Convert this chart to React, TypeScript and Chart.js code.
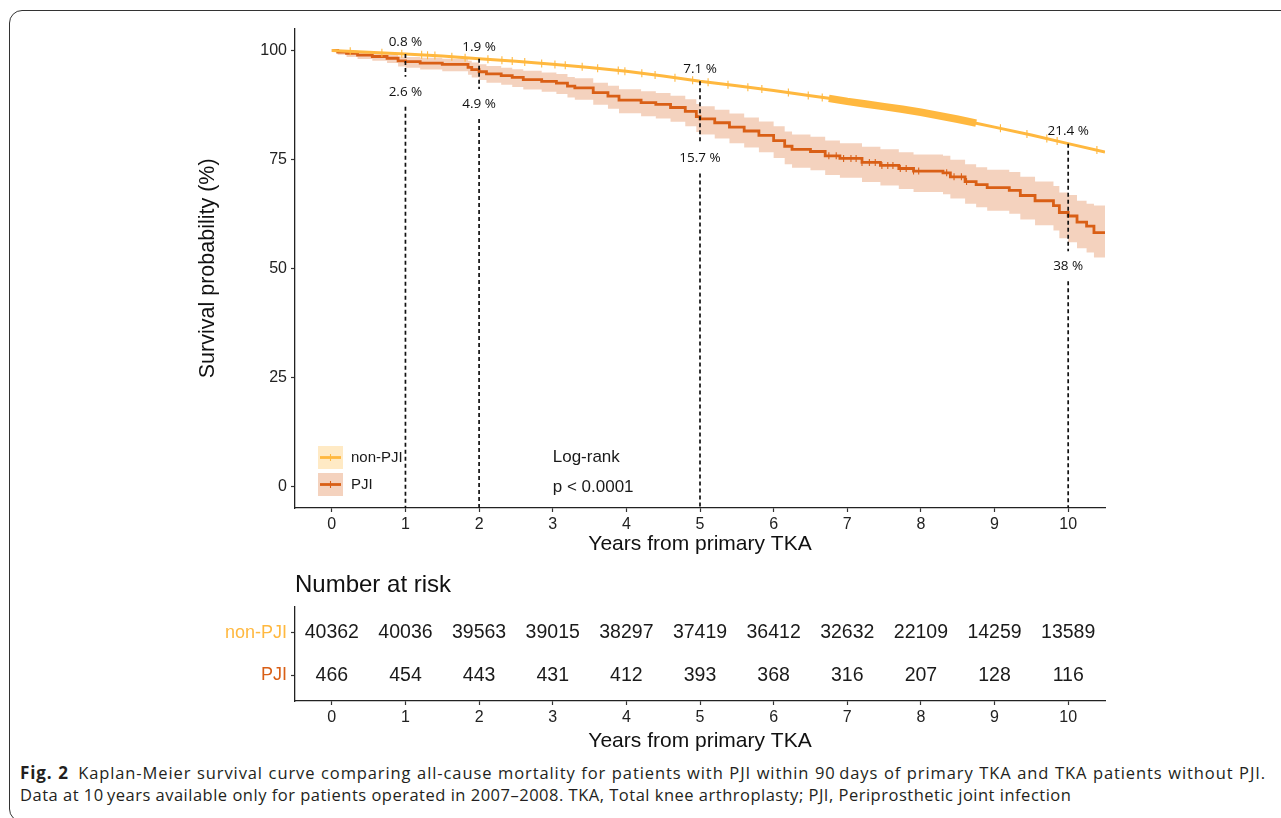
import React, { useEffect, useRef } from 'react';
import { Chart, registerables } from 'chart.js';

Chart.register(...registerables);

// ---------- data ----------
const xTickValues = [0, 1, 2, 3, 4, 5, 6, 7, 8, 9, 10];
const yTickValues = [0, 25, 50, 75, 100];

const nonPjiTimes = [0, 0.5, 1, 1.5, 2, 2.5, 3, 3.5, 4, 4.5, 5, 5.5, 6, 6.5, 6.75, 7, 7.25, 7.5, 7.75, 8, 8.25, 8.5, 8.75, 9, 9.5, 10, 10.5];
const nonPjiSurvival = [100, 99.6, 99.2, 98.7, 98.1, 97.5, 96.8, 96.1, 95.2, 94.1, 92.9, 91.9, 90.8, 89.6, 89.0, 88.3, 87.7, 87.1, 86.5, 85.8, 85.0, 84.2, 83.3, 82.4, 80.6, 78.6, 76.7];
const nonPjiDenseCensorRange = [6.75, 8.75];
const nonPjiCensor = [0.25, 0.68, 0.95, 1.22, 1.3, 1.4, 1.63, 1.81, 2.12, 2.31, 2.45, 2.62, 2.85, 3.03, 3.17, 3.4, 3.61, 3.89, 3.98, 4.21, 4.39, 4.66, 4.9, 5.11, 5.38, 5.65, 5.84, 6.2, 6.47, 6.66, 9.08, 9.44, 9.71, 9.85, 10.39];

const pjiTimes = [0, 0.08, 0.2, 0.35, 0.55, 0.75, 0.9, 1.0, 1.2, 1.5, 1.85, 1.9, 2.0, 2.1, 2.3, 2.45, 2.6, 2.85, 3.05, 3.2, 3.3, 3.55, 3.75, 3.9, 4.2, 4.4, 4.6, 4.8, 4.95, 5.0, 5.2, 5.4, 5.6, 5.8, 6.0, 6.15, 6.25, 6.5, 6.7, 6.9, 7.2, 7.45, 7.7, 7.9, 8.3, 8.4, 8.6, 8.75, 8.9, 9.2, 9.35, 9.55, 9.8, 9.88, 10.0, 10.12, 10.25, 10.35, 10.5];
const pjiSurvival = [100, 99.6, 99.3, 98.9, 98.6, 98.2, 97.6, 97.4, 97.1, 96.8, 96.1, 95.6, 95.1, 94.6, 94.2, 93.8, 93.3, 92.9, 92.5, 91.8, 91.4, 90.3, 89.5, 88.6, 88.0, 87.6, 86.9, 86.0, 84.8, 84.3, 83.4, 82.4, 81.5, 80.5, 79.3, 78.0, 77.3, 76.8, 75.8, 75.2, 74.3, 73.6, 72.9, 72.3, 71.9, 71.0, 69.9, 69.2, 68.5, 67.9, 66.7, 65.5, 64.4, 62.8, 62.0, 60.6, 59.7, 58.2, 58.0];
const pjiUpper = [100, 100, 99.9, 99.6, 99.4, 99.1, 98.6, 98.5, 98.3, 98.1, 97.6, 97.2, 96.8, 96.4, 96.0, 95.7, 95.3, 94.9, 94.6, 93.9, 93.6, 92.6, 91.9, 91.1, 90.6, 90.2, 89.6, 88.8, 87.7, 87.2, 86.4, 85.5, 84.6, 83.7, 82.6, 81.4, 80.7, 80.2, 79.3, 78.7, 77.9, 77.3, 76.6, 76.1, 75.8, 74.9, 73.9, 73.2, 72.6, 72.1, 71.0, 69.9, 68.9, 67.4, 66.8, 65.5, 64.8, 64.4, 64.3];
const pjiLower = [100, 99.0, 98.5, 98.0, 97.6, 97.1, 96.3, 96.0, 95.6, 95.2, 94.4, 93.8, 93.2, 92.6, 92.1, 91.6, 91.0, 90.5, 90.0, 89.2, 88.7, 87.5, 86.6, 85.6, 84.9, 84.4, 83.6, 82.6, 81.3, 80.7, 79.8, 78.7, 77.7, 76.6, 75.3, 73.9, 73.1, 72.5, 71.4, 70.8, 69.8, 69.0, 68.2, 67.5, 67.0, 66.0, 64.8, 64.0, 63.2, 62.5, 61.2, 59.9, 58.7, 56.9, 56.0, 54.6, 53.6, 52.5, 52.3];
const pjiCensor = [6.75, 6.85, 6.95, 7.05, 7.12, 7.2, 7.3, 7.38, 7.47, 7.55, 7.62, 7.72, 7.8, 7.9, 7.97, 8.35, 8.45, 8.55, 8.62];

const markYears = [1, 2, 5, 10];
const nonPjiMortalityLabels = ['0.8 %', '1.9 %', '7.1 %', '21.4 %'];
const pjiMortalityLabels = ['2.6 %', '4.9 %', '15.7 %', '38 %'];

const groupNames = ['non-PJI', 'PJI'];
const riskYears = [0, 1, 2, 3, 4, 5, 6, 7, 8, 9, 10];
const riskNonPji = [40362, 40036, 39563, 39015, 38297, 37419, 36412, 32632, 22109, 14259, 13589];
const riskPji = [466, 454, 443, 431, 412, 393, 368, 316, 207, 128, 116];

// ---------- styles ----------
const NONPJI = '#FFB83F';
const NONPJI_FILL = 'rgba(255,184,63,0.3)';
const PJI = '#D95F16';
const BAND = 'rgba(217,95,22,0.28)';
const FONT = '"Liberation Sans", Arial, Helvetica, sans-serif';
const TEXT = '#1a1a1a';

Chart.defaults.font.family = FONT;
Chart.defaults.color = TEXT;

const linearAt = (ts: number[], vs: number[], t: number) => {
  for (let i = 1; i < ts.length; i++) {
    if (t <= ts[i]) {
      const f = (t - ts[i - 1]) / (ts[i] - ts[i - 1]);
      return vs[i - 1] + f * (vs[i] - vs[i - 1]);
    }
  }
  return vs[vs.length - 1];
};
const stepAt = (ts: number[], vs: number[], t: number) => {
  let v = vs[0];
  for (let i = 0; i < ts.length; i++) if (ts[i] <= t + 1e-9) v = vs[i];
  return v;
};

const axisGrid = { display: true, drawOnChartArea: false, drawTicks: true, tickLength: 4, tickColor: '#333', tickWidth: 1.2 };
const axisBorder = { display: true, color: '#222', width: 1.3 };
const setTicks = (vals: number[]) => (scale: any) => { scale.ticks = vals.map((v) => ({ value: v })); };

const censorPlugin = {
  id: 'censor',
  afterDatasetsDraw(chart: any) {
    const { ctx, scales: { x, y }, chartArea } = chart;
    ctx.save();
    ctx.beginPath();
    ctx.rect(chartArea.left, chartArea.top, chartArea.width, chartArea.height);
    ctx.clip();
    ctx.lineWidth = 1.1;
    ctx.strokeStyle = NONPJI;
    nonPjiCensor.forEach((t) => {
      const px = x.getPixelForValue(t);
      const py = y.getPixelForValue(linearAt(nonPjiTimes, nonPjiSurvival, t));
      ctx.beginPath(); ctx.moveTo(px, py - 4); ctx.lineTo(px, py + 4); ctx.stroke();
    });
    ctx.strokeStyle = PJI;
    pjiCensor.forEach((t) => {
      const px = x.getPixelForValue(t);
      const py = y.getPixelForValue(stepAt(pjiTimes, pjiSurvival, t));
      ctx.beginPath(); ctx.moveTo(px, py - 3.5); ctx.lineTo(px, py + 3.5); ctx.stroke();
    });
    ctx.restore();
  },
};

const annotPlugin = {
  id: 'annot',
  afterDatasetsDraw(chart: any) {
    const { ctx, scales: { x, y }, chartArea } = chart;
    ctx.save();
    markYears.forEach((t, i) => {
      const px = x.getPixelForValue(t);
      const topY = y.getPixelForValue(linearAt(nonPjiTimes, nonPjiSurvival, t));
      const lowY = y.getPixelForValue(stepAt(pjiTimes, pjiLower, t)) + 24;
      ctx.strokeStyle = '#111';
      ctx.lineWidth = 1.7;
      ctx.setLineDash([4, 3]);
      ctx.beginPath();
      ctx.moveTo(px, topY); ctx.lineTo(px, lowY - 15);
      ctx.moveTo(px, lowY + 15); ctx.lineTo(px, chartArea.bottom);
      ctx.stroke();
      ctx.setLineDash([]);
      ctx.fillStyle = '#111';
      ctx.font = '13.5px "Open Sans", sans-serif';
      ctx.textAlign = 'center';
      ctx.textBaseline = 'middle';
      ctx.fillText(nonPjiMortalityLabels[i], px, topY - 12);
      ctx.fillText(pjiMortalityLabels[i], px, lowY);
    });
    // log-rank annotation
    ctx.font = '17px ' + FONT;
    ctx.textAlign = 'left';
    ctx.fillStyle = TEXT;
    ctx.fillText('Log-rank', x.getPixelForValue(3), y.getPixelForValue(6.6));
    ctx.fillText('p < 0.0001', x.getPixelForValue(3), y.getPixelForValue(-0.3));
    ctx.restore();
  },
};

const legendPlugin = {
  id: 'kmLegend',
  afterDraw(chart: any) {
    const { ctx, chartArea } = chart;
    const left = chartArea.left + 23;
    const w = 25, h = 23;
    const rows = [
      { label: groupNames[0], color: NONPJI, fill: NONPJI_FILL, top: chartArea.bottom - 62 },
      { label: groupNames[1], color: PJI, fill: BAND, top: chartArea.bottom - 35 },
    ];
    ctx.save();
    rows.forEach((r) => {
      ctx.fillStyle = r.fill;
      ctx.fillRect(left, r.top, w, h);
      const cy = r.top + h / 2;
      ctx.strokeStyle = r.color;
      ctx.lineWidth = 2.8;
      ctx.beginPath(); ctx.moveTo(left + 2, cy); ctx.lineTo(left + w - 2, cy); ctx.stroke();
      ctx.lineWidth = 1.1;
      ctx.beginPath(); ctx.moveTo(left + w / 2, cy - 3.5); ctx.lineTo(left + w / 2, cy + 3.5); ctx.stroke();
      ctx.fillStyle = TEXT;
      ctx.font = '15px ' + FONT;
      ctx.textAlign = 'left';
      ctx.textBaseline = 'middle';
      ctx.fillText(r.label, left + w + 8, cy);
    });
    ctx.restore();
  },
};

const riskTextPlugin = {
  id: 'riskText',
  afterDatasetsDraw(chart: any) {
    const { ctx, chartArea } = chart;
    ctx.save();
    ctx.font = '19.5px ' + FONT;
    ctx.fillStyle = TEXT;
    ctx.textAlign = 'center';
    ctx.textBaseline = 'middle';
    chart.data.datasets.forEach((ds: any, di: number) => {
      const meta = chart.getDatasetMeta(di);
      meta.data.forEach((pt: any, i: number) => {
        ctx.fillText(String(ds.counts[i]), pt.x, pt.y);
      });
    });
    ctx.font = '24px ' + FONT;
    ctx.textAlign = 'left';
    ctx.fillStyle = '#111';
    ctx.fillText('Number at risk', chartArea.left, chartArea.top - 22);
    ctx.restore();
  },
};

export default function App() {
  const mainRef = useRef<HTMLCanvasElement>(null);
  const riskRef = useRef<HTMLCanvasElement>(null);

  useEffect(() => {
    const nonPjiData = nonPjiTimes.map((t, i) => ({ x: t, y: nonPjiSurvival[i] }));
    const denseData = nonPjiData.filter((p) => p.x >= nonPjiDenseCensorRange[0] && p.x <= nonPjiDenseCensorRange[1]);
    const pjiData = pjiTimes.map((t, i) => ({ x: t, y: pjiSurvival[i] }));
    const upperData = pjiTimes.map((t, i) => ({ x: t, y: pjiUpper[i] }));
    const lowerData = pjiTimes.map((t, i) => ({ x: t, y: pjiLower[i] }));

    const main = new Chart(mainRef.current as HTMLCanvasElement, {
      type: 'line',
      data: {
        datasets: [
          { label: 'dense', data: denseData, borderColor: NONPJI, borderWidth: 7.5, pointRadius: 0, fill: false, tension: 0 },
          { label: groupNames[0], data: nonPjiData, borderColor: NONPJI, borderWidth: 3, pointRadius: 0, fill: false, tension: 0 },
          { label: groupNames[1], data: pjiData, borderColor: PJI, borderWidth: 2.8, pointRadius: 0, fill: false, stepped: true },
          { label: 'upper', data: upperData, borderColor: 'rgba(0,0,0,0)', borderWidth: 1, pointRadius: 0, fill: false, stepped: true },
          { label: 'lower', data: lowerData, borderColor: 'rgba(0,0,0,0)', borderWidth: 1, pointRadius: 0, fill: '-1', backgroundColor: BAND, stepped: true },
        ] as any,
      },
      options: {
        responsive: false,
        animation: false,
        events: [],
        layout: { padding: { left: 0, right: 25, top: 12, bottom: 0 } },
        plugins: { legend: { display: false }, tooltip: { enabled: false } },
        scales: {
          x: {
            type: 'linear', min: -0.5, max: 10.5,
            afterBuildTicks: setTicks(xTickValues),
            afterFit: (s: any) => { s.height = 62; },
            grid: axisGrid as any, border: axisBorder as any,
            ticks: { font: { size: 16 }, color: '#222', padding: 3, maxRotation: 0, autoSkip: false },
            title: { display: true, text: 'Years from primary TKA', font: { size: 21 }, color: '#111', padding: { top: 0, bottom: 13 } },
          },
          y: {
            type: 'linear', min: -5, max: 105,
            afterBuildTicks: setTicks(yTickValues),
            afterFit: (s: any) => { s.width = 145; },
            grid: axisGrid as any, border: axisBorder as any,
            ticks: { font: { size: 16 }, color: '#222', padding: 4 },
            title: { display: true, text: 'Survival probability (%)', font: { size: 21.5 }, color: '#111', padding: { top: 45, bottom: 0 } },
          },
        },
      } as any,
      plugins: [censorPlugin, annotPlugin, legendPlugin],
    });

    const risk = new Chart(riskRef.current as HTMLCanvasElement, {
      type: 'scatter',
      data: {
        datasets: [
          { label: groupNames[0], data: riskYears.map((t) => ({ x: t, y: 2 })), counts: riskNonPji, pointRadius: 0 },
          { label: groupNames[1], data: riskYears.map((t) => ({ x: t, y: 1 })), counts: riskPji, pointRadius: 0 },
        ] as any,
      },
      options: {
        responsive: false,
        animation: false,
        events: [],
        layout: { padding: { left: 0, right: 25, top: 42, bottom: 0 } },
        plugins: { legend: { display: false }, tooltip: { enabled: false } },
        scales: {
          x: {
            type: 'linear', min: -0.5, max: 10.5,
            afterBuildTicks: setTicks(riskYears),
            afterFit: (s: any) => { s.height = 59; },
            grid: axisGrid as any, border: axisBorder as any,
            ticks: { font: { size: 16 }, color: '#222', padding: 3, maxRotation: 0, autoSkip: false },
            title: { display: true, text: 'Years from primary TKA', font: { size: 21 }, color: '#111', padding: { top: 0, bottom: 6 } },
          },
          y: {
            type: 'linear', min: 0.4, max: 2.6,
            afterBuildTicks: setTicks([1, 2]),
            afterFit: (s: any) => { s.width = 145; },
            grid: axisGrid as any, border: axisBorder as any,
            ticks: {
              font: { size: 18 }, padding: 4,
              callback: (v: any) => (v === 2 ? groupNames[0] : groupNames[1]),
              color: (c: any) => (c.tick && c.tick.value === 2 ? NONPJI : PJI),
            },
          },
        },
      } as any,
      plugins: [riskTextPlugin],
    });

    return () => { main.destroy(); risk.destroy(); };
  }, []);

  const captionBase: React.CSSProperties = { fontFamily: '"Open Sans", sans-serif', fontSize: 16.5, letterSpacing: '0.5px', lineHeight: '22px', color: '#231f20', whiteSpace: 'nowrap' };

  return (
    <div style={{ position: 'absolute', left: 0, top: 0, width: 1281, height: 818, overflow: 'hidden', background: '#fff' }}>
      <div style={{ position: 'absolute', left: 9, top: 10, width: 1400, height: 812, border: '1px solid #333', borderRadius: 13, boxSizing: 'border-box' }} />
      <canvas ref={mainRef} width={980} height={555} style={{ position: 'absolute', left: 150, top: 15, width: 980, height: 555 }} />
      <canvas ref={riskRef} width={980} height={195} style={{ position: 'absolute', left: 150, top: 565, width: 980, height: 195 }} />
      <div style={{ position: 'absolute', left: 20, top: 762, width: 1246 }}>
        <div style={{ ...captionBase, letterSpacing: '0.9px', whiteSpace: 'normal', textAlign: 'justify', textAlignLast: 'justify', height: 22, overflow: 'hidden' } as any}>
          <b style={{ fontSize: 17 }}>Fig. 2</b>{'\u2002'}Kaplan-Meier survival curve comparing all-cause mortality for patients with PJI within 90{'\u2009'}days of primary TKA and TKA patients without PJI.
        </div>
        <div style={captionBase}>Data at 10{'\u2009'}years available only for patients operated in 2007–2008. TKA, Total knee arthroplasty; PJI, Periprosthetic joint infection</div>
      </div>
    </div>
  );
}
